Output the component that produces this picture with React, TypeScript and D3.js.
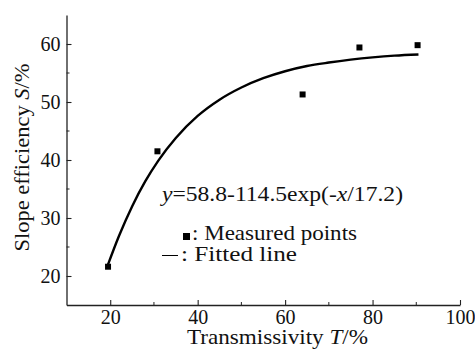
import React, { useEffect, useRef } from 'react';
import * as d3 from 'd3';

// measured points
const transmissivity = [19.5, 30.8, 64, 77, 90.3];
const slopeEff = [21.6, 41.5, 51.3, 59.4, 59.8];

// fitted curve
const fitX = [19.5, 22, 25, 28, 31, 35, 40, 45, 50, 55, 60, 65, 70, 75, 80, 85, 90.5];
const fitY = [22.0, 26.9, 32.0, 36.3, 39.9, 43.8, 47.6, 50.4, 52.5, 54.1, 55.3, 56.2, 56.8, 57.3, 57.7, 58.0, 58.2];

const xTicks = [20, 40, 60, 80, 100];
const xMinor = [30, 50, 70, 90];
const yTicks = [20, 30, 40, 50, 60];
const yMinor = [25, 35, 45, 55];

const FONT = '"Liberation Serif", "Times New Roman", serif';

export default function App() {
  const ref = useRef<SVGSVGElement>(null);

  useEffect(() => {
    const svg = d3.select(ref.current);
    svg.selectAll('*').remove();

    const x = d3.scaleLinear().domain([10, 100]).range([66.5, 460]);
    const y = d3.scaleLinear().domain([15, 65]).range([305, 15]);

    const g = svg.append('g');

    // x axis
    const xa = g.append('g').attr('transform', `translate(0,${y(15)})`)
      .call(d3.axisBottom(x).tickValues(xTicks).tickSizeInner(-5).tickSizeOuter(0).tickPadding(5)
        .tickFormat(d3.format('d')));
    xa.append('g').selectAll('line').data(xMinor).enter().append('line')
      .attr('x1', d => x(d)).attr('x2', d => x(d)).attr('y1', 0).attr('y2', -3)
      .attr('stroke', '#222');

    // y axis
    const ya = g.append('g').attr('transform', `translate(${x(10)},0)`)
      .call(d3.axisLeft(y).tickValues(yTicks).tickSizeInner(-5).tickSizeOuter(0).tickPadding(6)
        .tickFormat(d3.format('d')));
    ya.append('g').selectAll('line').data(yMinor).enter().append('line')
      .attr('y1', d => y(d)).attr('y2', d => y(d)).attr('x1', 0).attr('x2', 3)
      .attr('stroke', '#222');

    [xa, ya].forEach(a => {
      a.select('.domain').attr('stroke', '#222').attr('stroke-width', 1.3);
      a.selectAll('.tick line').attr('stroke', '#222').attr('stroke-width', 1.1);
      a.selectAll('.tick text').attr('font-family', FONT).attr('font-size', 20).attr('fill', '#111');
    });
    xa.selectAll('.tick text').attr('dy', '0.7em');
    ya.selectAll('.tick text').attr('dy', '0.34em');

    // fitted line
    const pts = fitX.map((v, i) => [v, fitY[i]] as [number, number]);
    g.append('path')
      .attr('d', d3.line<[number, number]>().x(d => x(d[0])).y(d => y(d[1])).curve(d3.curveMonotoneX)(pts))
      .attr('fill', 'none').attr('stroke', '#000').attr('stroke-width', 2.4);

    // measured points
    g.append('g').selectAll('rect').data(transmissivity).enter().append('rect')
      .attr('x', (d) => x(d) - 3).attr('y', (d, i) => y(slopeEff[i]) - 3)
      .attr('width', 6).attr('height', 6).attr('fill', '#000');

    const label = (tx: number, ty: number, len: number) =>
      g.append('text').attr('x', tx).attr('y', ty).attr('textLength', len).attr('lengthAdjust', 'spacingAndGlyphs')
        .attr('font-family', FONT).attr('font-size', 21).attr('fill', '#111');

    // equation
    const eq = label(162, 201, 241);
    eq.append('tspan').attr('font-style', 'italic').text('y');
    eq.append('tspan').text('=58.8-114.5exp(-');
    eq.append('tspan').attr('font-style', 'italic').text('x');
    eq.append('tspan').text('/17.2)');

    // legend
    g.append('rect').attr('x', 183).attr('y', 233).attr('width', 7).attr('height', 7).attr('fill', '#000');
    label(192, 240, 165).text(': Measured points');
    g.append('line').attr('x1', 162).attr('x2', 178).attr('y1', 255.5).attr('y2', 255.5)
      .attr('stroke', '#000').attr('stroke-width', 1);
    label(181, 261, 116).text(': Fitted line');

    // axis titles
    const xt = label(187, 344, 181);
    xt.append('tspan').text('Transmissivity ');
    xt.append('tspan').attr('font-style', 'italic').text('T');
    xt.append('tspan').text('/%');

    const yt = g.append('text').attr('transform', 'translate(29,157.5) rotate(-90)').attr('text-anchor', 'middle')
      .attr('textLength', 188).attr('lengthAdjust', 'spacingAndGlyphs')
      .attr('font-family', FONT).attr('font-size', 21).attr('fill', '#111');
    yt.append('tspan').text('Slope efficiency ');
    yt.append('tspan').attr('font-style', 'italic').text('S');
    yt.append('tspan').text('/%');
  }, []);

  return (
    <svg ref={ref} width={475} height={349}
      style={{ position: 'absolute', left: 0, top: 0, background: '#fff' }} />
  );
}
